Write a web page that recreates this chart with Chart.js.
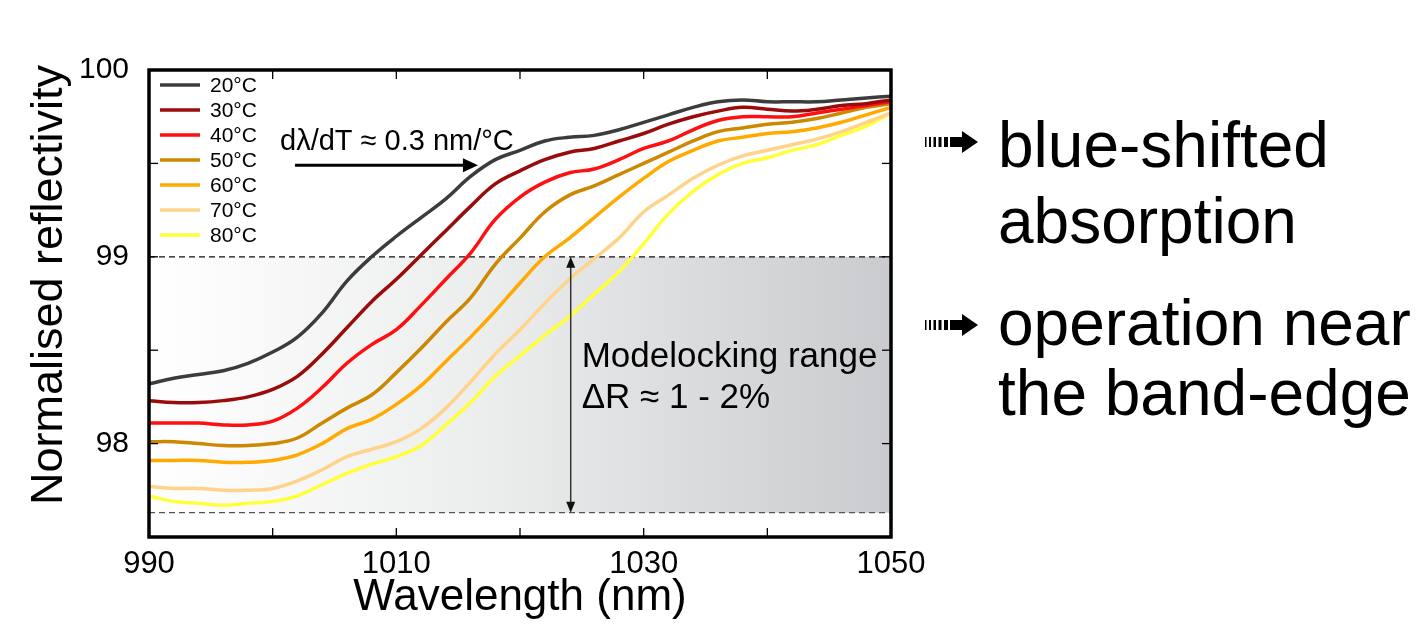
<!DOCTYPE html>
<html><head><meta charset="utf-8">
<script src="https://cdn.jsdelivr.net/npm/chart.js@4.4.0/dist/chart.umd.min.js"></script>
<style>
html,body{margin:0;padding:0;background:#fff;}
#wrap{position:relative;width:1424px;height:631px;overflow:hidden;background:#fff;}
#c{position:absolute;left:0;top:0;}
.t{position:absolute;font-family:"Liberation Sans",Arial,Helvetica,sans-serif;font-size:64px;line-height:64px;color:#000;white-space:nowrap;}
.ic{position:absolute;}
</style></head><body>
<div id="wrap">
<canvas id="c" width="1424" height="631"></canvas>
<svg class="ic" style="left:924px;top:130px" width="56" height="24" viewBox="0 0 56 24">
 <rect x="1" y="7" width="1.5" height="10" fill="#000"/>
 <rect x="5" y="7" width="2" height="10" fill="#000"/>
 <rect x="9.5" y="7" width="2.5" height="10" fill="#000"/>
 <rect x="14.5" y="7" width="3" height="10" fill="#000"/>
 <rect x="20" y="7" width="4" height="10" fill="#000"/>
 <polygon points="26,7 38,7 38,1 54,12 38,23 38,17 26,17" fill="#000"/>
</svg>
<svg class="ic" style="left:924px;top:313px" width="56" height="24" viewBox="0 0 56 24">
 <rect x="1" y="7" width="1.5" height="10" fill="#000"/>
 <rect x="5" y="7" width="2" height="10" fill="#000"/>
 <rect x="9.5" y="7" width="2.5" height="10" fill="#000"/>
 <rect x="14.5" y="7" width="3" height="10" fill="#000"/>
 <rect x="20" y="7" width="4" height="10" fill="#000"/>
 <polygon points="26,7 38,7 38,1 54,12 38,23 38,17 26,17" fill="#000"/>
</svg>
<div class="t" style="left:998px;top:113px">blue-shifted</div>
<div class="t" style="left:998px;top:189px">absorption</div>
<div class="t" style="left:998px;top:291px">operation near</div>
<div class="t" style="left:998px;top:361px">the band-edge</div>
</div>
<script>
// ---------- data ----------
const wavelengths = [990,992,994,996,998,1000,1002,1004,1006,1008,1010,1012,1014,1016,1018,1020,1022,1024,1026,1028,1030,1032,1034,1036,1038,1040,1042,1044,1046,1048,1050];
const seriesNames = ['20°C','30°C','40°C','50°C','60°C','70°C','80°C'];
const r20 = [98.32,98.35,98.37,98.39,98.43,98.49,98.57,98.70,98.87,99.00,99.11,99.21,99.31,99.43,99.52,99.57,99.62,99.64,99.65,99.68,99.72,99.76,99.80,99.83,99.84,99.83,99.83,99.83,99.84,99.85,99.86];
const r30 = [98.23,98.22,98.22,98.23,98.25,98.29,98.36,98.48,98.62,98.76,98.88,99.01,99.14,99.27,99.39,99.46,99.52,99.56,99.58,99.62,99.66,99.71,99.75,99.78,99.80,99.79,99.78,99.79,99.81,99.82,99.84];
const r40 = [98.11,98.11,98.11,98.10,98.10,98.12,98.19,98.30,98.43,98.53,98.61,98.74,98.88,99.02,99.20,99.32,99.40,99.45,99.47,99.52,99.58,99.62,99.68,99.73,99.75,99.75,99.75,99.77,99.79,99.81,99.83];
const r50 = [98.01,98.01,98.00,97.99,97.99,98.00,98.03,98.11,98.19,98.26,98.38,98.51,98.65,98.78,98.96,99.10,99.24,99.33,99.38,99.44,99.50,99.56,99.62,99.67,99.69,99.71,99.72,99.74,99.77,99.80,99.82];
const r60 = [97.91,97.91,97.91,97.90,97.90,97.91,97.94,98.00,98.08,98.13,98.21,98.31,98.44,98.57,98.71,98.86,99.00,99.10,99.21,99.32,99.42,99.51,99.57,99.62,99.64,99.66,99.67,99.69,99.72,99.76,99.80];
const r70 = [97.77,97.76,97.76,97.75,97.75,97.76,97.80,97.86,97.93,97.97,98.01,98.08,98.19,98.33,98.48,98.61,98.75,98.88,98.99,99.10,99.24,99.33,99.42,99.49,99.54,99.57,99.60,99.63,99.67,99.72,99.77];
const r80 = [97.72,97.69,97.68,97.67,97.68,97.69,97.72,97.78,97.84,97.89,97.93,97.99,98.10,98.22,98.36,98.47,98.58,98.68,98.80,98.92,99.07,99.23,99.35,99.44,99.50,99.53,99.57,99.60,99.65,99.70,99.77];
const xTickLabels = [990,1010,1030,1050];
const yTickLabels = [98,99,100];
const rangeTop = 99;
const rangeBottom = 97.63;
const rangeArrowX = 1024.1;
const shiftArrowFrom = 1001.8, shiftArrowTo = 1016.6, shiftArrowY = 99.49;

// ---------- styles ----------
const lineColors = ['#3c3c3c','#9a0b0b','#ff1010','#cc8800','#ffaa00','#ffd38a','#ffff3c'];
const FONT = '"Liberation Sans", Arial, Helvetica, sans-serif';
const allSeries = [r20,r30,r40,r50,r60,r70,r80];

const datasets = allSeries.map((vals,i)=>({
  label: seriesNames[i],
  data: wavelengths.map((w,j)=>({x:w,y:vals[j]})),
  borderColor: lineColors[i],
  backgroundColor: lineColors[i],
  borderWidth: 3.5,
  pointRadius: 0,
  tension: 0.4,
  fill: false
}));

function arrowHead(ctx, x, y, dx, dy, len, half){
  const L = Math.hypot(dx,dy); const ux=dx/L, uy=dy/L;
  ctx.beginPath();
  ctx.moveTo(x,y);
  ctx.lineTo(x-ux*len-uy*half, y-uy*len+ux*half);
  ctx.lineTo(x-ux*len+uy*half, y-uy*len-ux*half);
  ctx.closePath(); ctx.fill();
}

const overlay = {
  id: 'overlay',
  beforeDatasetsDraw(chart){
    const {ctx, chartArea:a, scales:{x,y}} = chart;
    const yt = y.getPixelForValue(rangeTop), yb = y.getPixelForValue(rangeBottom);
    ctx.save();
    const g = ctx.createLinearGradient(a.left,0,a.right,0);
    g.addColorStop(0,'#ffffff');
    g.addColorStop(0.45,'#eceded');
    g.addColorStop(1,'#cacbce');
    ctx.fillStyle = g;
    ctx.fillRect(a.left, yt, a.right-a.left, yb-yt);
    ctx.lineWidth = 1.2;
    ctx.setLineDash([6,4]);
    ctx.strokeStyle = '#111';
    ctx.beginPath(); ctx.moveTo(a.left, yt); ctx.lineTo(a.right, yt); ctx.stroke();
    ctx.strokeStyle = '#555';
    ctx.beginPath(); ctx.moveTo(a.left, yb); ctx.lineTo(a.right, yb); ctx.stroke();
    ctx.restore();
  },
  afterDatasetsDraw(chart){
    const {ctx, chartArea:a, scales:{x,y}} = chart;
    ctx.save();
    // range double arrow
    const ax = x.getPixelForValue(rangeArrowX);
    const yt = y.getPixelForValue(rangeTop), yb = y.getPixelForValue(rangeBottom);
    ctx.strokeStyle = '#333'; ctx.fillStyle = '#111'; ctx.lineWidth = 1.5;
    ctx.beginPath(); ctx.moveTo(ax, yt+8); ctx.lineTo(ax, yb-8); ctx.stroke();
    arrowHead(ctx, ax, yt, 0, -1, 11, 4.5);
    arrowHead(ctx, ax, yb, 0, 1, 11, 4.5);
    ctx.fillStyle = '#000';
    ctx.font = '35px ' + FONT;
    ctx.textAlign = 'left'; ctx.textBaseline = 'alphabetic';
    ctx.fillText('Modelocking range', ax + 11, 367);
    ctx.fillText('\u0394R \u2248 1 - 2%', ax + 11, 408);
    // shift arrow
    const sx0 = x.getPixelForValue(shiftArrowFrom), sx1 = x.getPixelForValue(shiftArrowTo);
    const sy = y.getPixelForValue(shiftArrowY);
    ctx.strokeStyle = '#000'; ctx.lineWidth = 3;
    ctx.beginPath(); ctx.moveTo(sx0, sy); ctx.lineTo(sx1-12, sy); ctx.stroke();
    arrowHead(ctx, sx1, sy, 1, 0, 15, 7);
    ctx.font = '29px ' + FONT;
    ctx.fillText('d\u03bb/dT \u2248 0.3 nm/\u00b0C', 280, 150);
    // legend
    ctx.font = '21px ' + FONT;
    ctx.textBaseline = 'middle';
    chart.data.datasets.forEach((ds,i)=>{
      const ly = a.top + 15 + 25*i;
      ctx.strokeStyle = ds.borderColor; ctx.lineWidth = 3.5;
      ctx.beginPath(); ctx.moveTo(a.left+11, ly); ctx.lineTo(a.left+51, ly); ctx.stroke();
      ctx.fillStyle = '#000';
      ctx.fillText(ds.label, a.left+61, ly+1);
    });
    ctx.restore();
  },
  afterDraw(chart){
    const {ctx, chartArea:a, scales:{x,y}} = chart;
    ctx.save();
    ctx.strokeStyle = '#000';
    ctx.lineWidth = 1.3;
    const tl = 9;
    x.ticks.forEach(t=>{
      const px = x.getPixelForValue(t.value);
      if (px <= a.left+2 || px >= a.right-2) return;
      ctx.beginPath(); ctx.moveTo(px, a.bottom); ctx.lineTo(px, a.bottom-tl); ctx.stroke();
      ctx.beginPath(); ctx.moveTo(px, a.top); ctx.lineTo(px, a.top+tl); ctx.stroke();
    });
    y.ticks.forEach(t=>{
      const py = y.getPixelForValue(t.value);
      if (py <= a.top+2 || py >= a.bottom-2) return;
      ctx.beginPath(); ctx.moveTo(a.left, py); ctx.lineTo(a.left+tl, py); ctx.stroke();
      ctx.beginPath(); ctx.moveTo(a.right, py); ctx.lineTo(a.right-tl, py); ctx.stroke();
    });
    ctx.lineWidth = 3.5;
    ctx.strokeRect(a.left, a.top, a.right-a.left, a.bottom-a.top);
    // y axis title
    ctx.fillStyle = '#000';
    ctx.font = '45px ' + FONT;
    ctx.textAlign = 'center'; ctx.textBaseline = 'alphabetic';
    ctx.translate(62, 285);
    ctx.rotate(-Math.PI/2);
    ctx.fillText('Normalised reflectivity', 0, 0);
    ctx.restore();
  }
};

new Chart(document.getElementById('c'), {
  type: 'line',
  data: { datasets },
  options: {
    responsive: false,
    animation: false,
    devicePixelRatio: 1,
    layout: { padding: { left: 0, top: 70, right: 533, bottom: 0 } },
    plugins: { legend: { display: false }, tooltip: { enabled: false } },
    scales: {
      x: {
        type: 'linear', min: 990, max: 1050,
        grid: { display: false, drawTicks: false },
        border: { display: false },
        ticks: {
          stepSize: 10, autoSkip: false, maxRotation: 0, padding: 9,
          color: '#000', font: { family: FONT, size: 31 },
          callback: v => xTickLabels.includes(v) ? String(v) : ''
        },
        title: { display: true, text: 'Wavelength (nm)', color: '#000',
          font: { family: FONT, size: 44 }, padding: { top: 0, bottom: 7 } },
        afterFit: s => { s.height = 94; }
      },
      y: {
        type: 'linear', min: 97.5, max: 100,
        grid: { display: false, drawTicks: false },
        border: { display: false },
        ticks: {
          stepSize: 0.5, autoSkip: false, padding: 20,
          color: '#000', font: { family: FONT, size: 30 },
          callback: v => yTickLabels.includes(v) ? String(v) : ''
        },
        afterFit: s => { s.width = 149; }
      }
    }
  },
  plugins: [overlay]
});
</script>
</body></html>
